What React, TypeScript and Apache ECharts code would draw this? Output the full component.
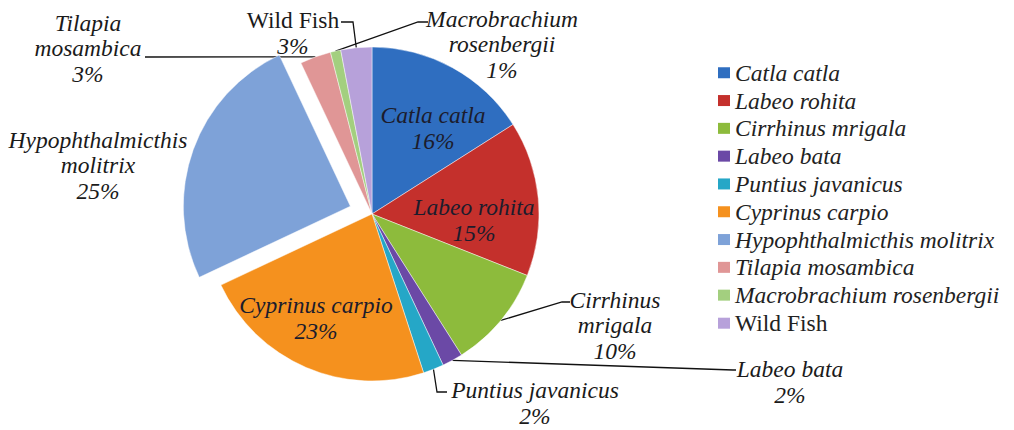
import React, { useEffect, useRef } from "react";
import * as echarts from "echarts";

const speciesNames = [
  "Catla catla",
  "Labeo rohita",
  "Cirrhinus mrigala",
  "Labeo bata",
  "Puntius javanicus",
  "Cyprinus carpio",
  "Hypophthalmicthis molitrix",
  "Tilapia mosambica",
  "Macrobrachium rosenbergii",
  "Wild Fish",
];
const labelTexts = [
  "Catla catla",
  "Labeo rohita",
  "Cirrhinus\nmrigala",
  "Labeo bata",
  "Puntius javanicus",
  "Cyprinus carpio",
  "Hypophthalmicthis\nmolitrix",
  "Tilapia\nmosambica",
  "Macrobrachium\nrosenbergii",
  "Wild Fish",
];
const shares = [16, 15, 10, 2, 2, 23, 25, 3, 1, 3];
const sliceColors = [
  "#2f6ec0",
  "#c4302c",
  "#8dbb3c",
  "#6b49a6",
  "#25a7c7",
  "#f5911e",
  "#7ea2d8",
  "#e09696",
  "#a3cf7f",
  "#b7a1da",
];
// names shown upright (not italic)
const uprightIndex = 9;

// label layout (pixel positions of label centres and leader-line bends)
const labelCenters: [number, number][] = [
  [433, 128],
  [474, 220],
  [615, 325],
  [790, 382],
  [535, 403],
  [316, 318],
  [98, 165],
  [88, 48],
  [502, 44],
  [293, 33],
];
const leaderBends: ([number, number][] | null)[] = [
  null,
  null,
  [[562, 302], [570, 302]],
  [[733, 370], [736, 370]],
  [[437, 392], [447, 392]],
  null,
  null,
  [[145, 57]],
  [[418, 22], [428, 22]],
  [[353, 22], [341, 22]],
];
const explodedIndex = 6;
const pieCenter: [number, number] = [372, 214];
const pieRadius = 167;
const explodeOffset = 23;

export default function App() {
  const ref = useRef<HTMLDivElement>(null);
  useEffect(() => {
    if (!ref.current) return;
    const chart = echarts.init(ref.current, null, { renderer: "svg" });
    const font = "'Liberation Serif', 'Times New Roman', serif";
    const fs = 23.5;

    // direction of the exploded slice, derived from the data
    const total = shares.reduce((a, b) => a + b, 0);
    const before = shares.slice(0, explodedIndex).reduce((a, b) => a + b, 0);
    const midAngle = ((before + shares[explodedIndex] / 2) / total) * Math.PI * 2;
    const explodedCenter = [
      pieCenter[0] + Math.sin(midAngle) * explodeOffset,
      pieCenter[1] - Math.cos(midAngle) * explodeOffset,
    ];

    const richStyles = {
      n: { fontStyle: "normal", fontFamily: font, fontSize: fs, lineHeight: 25.5, color: "#1a1a1a" },
      p: { fontStyle: "italic", fontFamily: font, fontSize: fs, lineHeight: 25.5, color: "#1a1a1a" },
    };

    const mainData = shares.map((v, i) => ({
      name: speciesNames[i],
      value: v,
      itemStyle:
        i === explodedIndex
          ? { color: "rgba(0,0,0,0)", borderWidth: 0 }
          : { color: sliceColors[i] },
      label: {
        formatter: (p: any) =>
          i === uprightIndex
            ? `{n|${labelTexts[i]}}\n{p|${Math.round(p.percent)}%}`
            : `${labelTexts[i]}\n${Math.round(p.percent)}%`,
        fontStyle: "italic",
        color: leaderBends[i] || i === explodedIndex ? "#1a1a1a" : "#1c1c2c",
        rich: richStyles,
      },
      labelLine: { show: !!leaderBends[i] },
    }));
    const explodedData = shares.map((v, i) => ({
      name: speciesNames[i],
      value: v,
      itemStyle:
        i === explodedIndex
          ? { color: sliceColors[i] }
          : { color: "rgba(0,0,0,0)", borderWidth: 0 },
    }));

    chart.setOption({
      animation: false,
      backgroundColor: "#ffffff",
      legend: {
        orient: "vertical",
        left: 718,
        top: 61,
        padding: 0,
        itemWidth: 12,
        itemHeight: 11,
        itemGap: 4.3,
        icon: "rect",
        data: speciesNames.map((n, i) => ({
          name: n,
          itemStyle: { color: sliceColors[i], borderWidth: 0 },
          textStyle: { fontStyle: i === uprightIndex ? "normal" : "italic" },
        })),
        textStyle: {
          fontFamily: font,
          fontSize: fs,
          lineHeight: fs,
          color: "#222222",
        },
        selectedMode: false,
      },
      series: [
        {
          type: "pie",
          center: pieCenter,
          radius: [0, pieRadius],
          startAngle: 90,
          clockwise: true,
          avoidLabelOverlap: false,
          minShowLabelAngle: 0,
          itemStyle: {
            borderColor: "rgba(255,255,255,0.45)",
            borderWidth: 1,
          },
          emphasis: { disabled: true },
          label: {
            show: true,
            position: "outside",
            fontFamily: font,
            fontSize: fs,
            lineHeight: 25.5,
            align: "center",
          },
          labelLine: {
            show: true,
            lineStyle: { color: "#111111", width: 1.3 },
          },
          labelLayout: (params: any) => {
            const i = params.dataIndex;
            const [x, y] = labelCenters[i];
            const out: any = { x, y, align: "center", verticalAlign: "middle" };
            const bends = leaderBends[i];
            if (bends && params.labelLinePoints && params.labelLinePoints[0]) {
              const s = params.labelLinePoints[0];
              out.labelLinePoints = [[s[0], s[1]], ...bends];
            }
            return out;
          },
          data: mainData,
        },
        {
          type: "pie",
          center: explodedCenter,
          radius: [0, pieRadius],
          startAngle: 90,
          clockwise: true,
          silent: true,
          itemStyle: {
            borderColor: "rgba(255,255,255,0.45)",
            borderWidth: 1,
          },
          emphasis: { disabled: true },
          label: { show: false },
          labelLine: { show: false },
          data: explodedData,
        },
      ],
    });
    return () => chart.dispose();
  }, []);
  return (
    <div
      ref={ref}
      style={{ position: "absolute", left: 0, top: 0, width: 1014, height: 430 }}
    />
  );
}
